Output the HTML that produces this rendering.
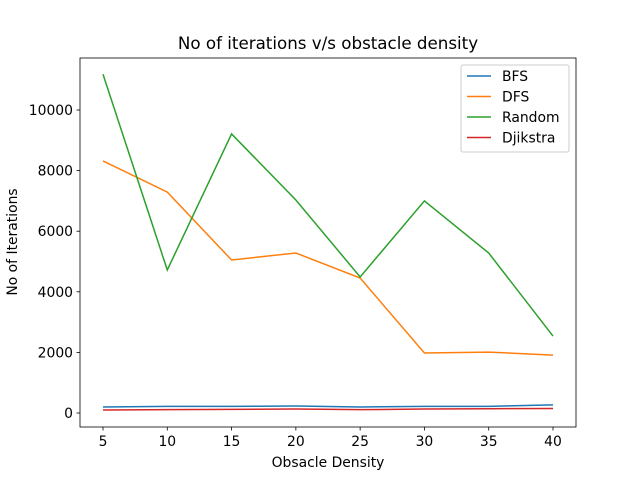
<!DOCTYPE html>
<html><head><meta charset="utf-8"><style>
body{margin:0;background:#fff}
svg{font-family:"DejaVu Sans","Liberation Sans",sans-serif}
</style></head><body>
<svg id="chart" width="640" height="480">
<rect width="640" height="480" fill="#fff"/>
<text x="328" y="49" font-size="16.7" text-anchor="middle">No of iterations v/s obstacle density</text>
<g id="ticks"></g>
<g id="lines"></g>
<rect x="80" y="58" width="496" height="369" fill="none" stroke="#000" stroke-width="0.8"/>
<text x="328" y="467" font-size="13.9" text-anchor="middle">Obsacle Density</text>
<text transform="translate(17,242) rotate(-90)" font-size="13.9" text-anchor="middle">No of Iterations</text>
<g>
<rect x="461" y="65" width="108" height="87" rx="2" fill="#fff" fill-opacity="0.8" stroke="#ccc"/>
<g id="legend"></g>
</g>
</svg>
<script>
const densities=[5,10,15,20,25,30,35,40];
const bfs=[200,220,220,230,200,220,220,270];
const dfs=[8320,7290,5050,5280,4455,1980,2010,1910];
const randomVals=[11180,4720,9210,7030,4490,7000,5280,2540];
const djikstra=[100,110,120,130,110,130,140,150];
const seriesNames=["BFS","DFS","Random","Djikstra"];
const xTicks=[5,10,15,20,25,30,35,40];
const yTicks=[0,2000,4000,6000,8000,10000];
const colors=["#1f77b4","#ff7f0e","#2ca02c","#d62728"];
const NS="http://www.w3.org/2000/svg";
const X=v=>103+(v-5)*450/35;
const Y=v=>413-v*0.0303;
function mk(t,a,p){const e=document.createElementNS(NS,t);for(const k in a)e.setAttribute(k,a[k]);p.appendChild(e);return e;}
const tg=document.getElementById('ticks');
xTicks.forEach(t=>{const x=X(t);
const l=mk('line',{x1:x,x2:x,y1:427,y2:430.5,stroke:'#000','stroke-width':0.8},tg);


const s=mk('text',{x:x,y:446,'font-size':13.9,'text-anchor':'middle'},tg);s.textContent=t;

});
yTicks.forEach(t=>{const y=Y(t);
const l=mk('line',{x1:76.5,x2:80,y1:y,y2:y,stroke:'#000','stroke-width':0.8},tg);


const s=mk('text',{x:73,y:y+5,'font-size':13.9,'text-anchor':'end'},tg);s.textContent=t;

});
const lg=document.getElementById('lines');
const all=[bfs,dfs,randomVals,djikstra];
all.forEach((d,i)=>{
const p=mk('polyline',{points:d.map((v,j)=>X(densities[j])+','+Y(v)).join(' '),fill:'none',stroke:colors[i],'stroke-width':1.5},lg);

});
const leg=document.getElementById('legend');
seriesNames.forEach((n,i)=>{const y=76+i*20.5;
const l=mk('line',{x1:467,x2:491,y1:y,y2:y,stroke:colors[i],'stroke-width':1.5},leg);


const t=mk('text',{x:502,y:y+5,'font-size':13.9},leg);t.textContent=n;

});
</script>
</body></html>
